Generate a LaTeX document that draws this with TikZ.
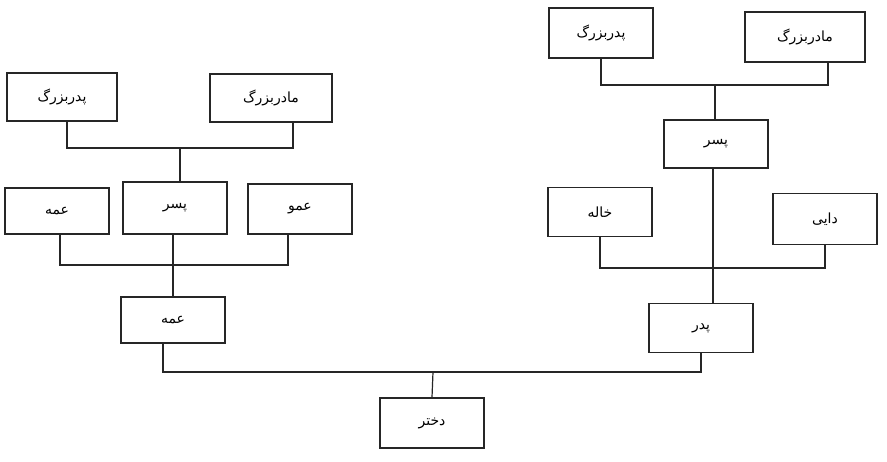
\documentclass[tikz,border=0pt]{standalone}
\usepackage{fontspec}
\newfontfamily\arabicfont[Script=Arabic]{DejaVu Sans}
\TeXXeTstate=1
\newcommand{\ar}[1]{{\arabicfont\fontsize{14}{16}\selectfont\beginR #1\endR}}
\begin{document}
\begin{tikzpicture}[x=1pt,y=-1pt,
  box/.style={draw=black!85,line width=1.2pt,fill=white,inner sep=0pt,minimum width=104pt,minimum height=48pt},
  conn/.style={draw=black!85,line width=1.2pt}]
\fill[white] (0,0) rectangle (887,461);
\useasboundingbox (0,0) rectangle (887,461);
% left family
\node[box,minimum width=110pt] (TL1) at (62,97) {\ar{پدربزرگ}};
\node[box,minimum width=122pt] (TL2) at (271,98) {\ar{مادربزرگ}};
\node[box,minimum height=46pt] (ML) at (57,211) {\ar{عمه}};
\node[box,minimum height=52pt] (MC) at (175,208) {\ar{پسر}};
\node[box,minimum height=50pt] (MR) at (300,209) {\ar{عمو}};
\node[box,minimum height=46pt] (LL) at (173,320) {\ar{عمه}};
% right family
\node[box,minimum height=50pt] (TR1) at (601,33) {\ar{پدربزرگ}};
\node[box,minimum width=120pt,minimum height=50pt] (TR2) at (805,37) {\ar{مادربزرگ}};
\node[box] (RC) at (716,144) {\ar{پسر}};
\node[box,minimum height=49pt] (RML) at (600,212) {\ar{خاله}};
\node[box,minimum height=51pt] (RMR) at (825,219) {\ar{دایی}};
\node[box,minimum height=49pt] (LR) at (701,328) {\ar{پدر}};
% child
\node[box,minimum height=50pt] (BC) at (432,423) {\ar{دختر}};
% junctions
\coordinate (jTL) at (180,148);
\coordinate (jML) at (173,265);
\coordinate (jTR) at (715,85);
\coordinate (jMR) at (713,268);
\coordinate (jB) at (433,372);
% connectors
\draw[conn] ([xshift=5pt]TL1.south) |- (jTL) -| ([xshift=22pt]TL2.south);
\draw[conn] (jTL) -- (jTL |- MC.north);
\draw[conn] ([xshift=3pt]ML.south) |- (jML) -| ([xshift=-12pt]MR.south);
\draw[conn] ([xshift=-2pt]MC.south) -- ([xshift=-2pt]MC.south |- LL.north);
\draw[conn] (TR1.south) |- (jTR) -| ([xshift=23pt]TR2.south);
\draw[conn] (jTR) -- (jTR |- RC.north);
\draw[conn] (RML.south) |- (jMR) -| (RMR.south);
\draw[conn] ([xshift=-3pt]RC.south) -- ([xshift=-3pt]RC.south |- LR.north);
\draw[conn] ([xshift=-10pt]LL.south) |- (jB) -| (LR.south);
\draw[conn] (jB) -- (BC.north);
\end{tikzpicture}
\end{document}
